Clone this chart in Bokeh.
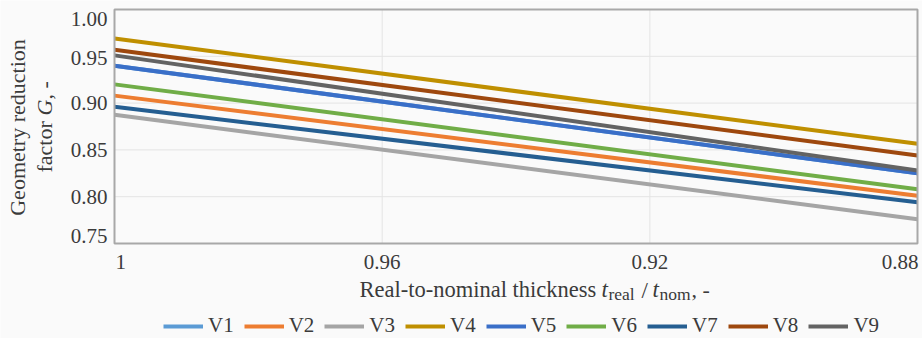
import math

from bokeh.plotting import figure
from bokeh.models import Range1d, Label, Legend, LegendItem
from bokeh.embed import file_html
from bokeh.resources import INLINE

# Real-to-nominal thickness t_real/t_nom (axis runs from 1 down to 0.88)
thickness = [1.00, 0.88]

# Geometry reduction factor G for each variant
series_names = ["V1", "V2", "V3", "V4", "V5", "V6", "V7", "V8", "V9"]
g_v1 = [0.940, 0.825]
g_v2 = [0.908, 0.801]
g_v3 = [0.8875, 0.776]
g_v4 = [0.969, 0.8565]
g_v5 = [0.940, 0.825]
g_v6 = [0.920, 0.808]
g_v7 = [0.896, 0.794]
g_v8 = [0.957, 0.844]
g_v9 = [0.951, 0.828]

x_ticks = [1.00, 0.96, 0.92, 0.88]
x_tick_labels = ["1", "0.96", "0.92", "0.88"]
y_ticks = [1.00, 0.95, 0.90, 0.85, 0.80, 0.75]
y_tick_labels = ["1.00", "0.95", "0.90", "0.85", "0.80", "0.75"]
x_grid = [0.96, 0.92]
y_grid = [0.95, 0.90, 0.85, 0.80]

colors = ["#5b9bd5", "#ed7d31", "#a5a5a5", "#bf8f00", "#3a6fc8",
          "#70ad47", "#255e91", "#9e480e", "#636363"]

FONT = "'Liberation Serif', 'Times New Roman', serif"
TXT = "#3b3b3b"
W, H = 922, 338
LIFT = 7  # raise labels so their glyphs sit on the intended baseline

# plot area inside the canvas (pixels): left, right, top, bottom
AL, AR, AT, AB = 114, 917, 9, 243
X0, X1 = thickness[0], thickness[-1]
Y0, Y1 = 0.75, 1.00
sx = (AR - AL) / (X0 - X1)
sy = (AB - AT) / (Y1 - Y0)

# the frame fills the whole canvas; ranges are widened so that the
# data window [1, 0.88] x [0.75, 1] lands on the plot area above
p = figure(width=W, height=H,
           x_range=Range1d(X0 + AL / sx, X1 - (W - AR) / sx),
           y_range=Range1d(Y0 - (H - AB) / sy, Y1 + AT / sy),
           x_axis_location=None, y_axis_location=None,
           output_backend="svg", toolbar_location=None,
           min_border=0, min_border_left=0, min_border_right=0,
           min_border_top=0, min_border_bottom=0,
           background_fill_color="#fafafa", border_fill_color="#fafafa",
           outline_line_color=None)
p.grid.visible = False

# grid lines
p.segment(x0=[X0] * len(y_grid), x1=[X1] * len(y_grid), y0=y_grid, y1=y_grid,
          line_color="#e4e4e4", line_width=1)
p.segment(x0=x_grid, x1=x_grid, y0=[Y0] * len(x_grid), y1=[Y1] * len(x_grid),
          line_color="#e4e4e4", line_width=1)

series = [g_v1, g_v2, g_v3, g_v4, g_v5, g_v6, g_v7, g_v8, g_v9]
items = []
for name, vals, col in zip(series_names, series, colors):
    r = p.line(thickness, vals, line_color=col, line_width=4)
    items.append(LegendItem(label=name, renderers=[r]))

# plot area border
p.quad(left=[X0], right=[X1], bottom=[Y0], top=[Y1], fill_alpha=0,
       line_color="#a8a8a8", line_width=2)

legend = Legend(items=items, orientation="horizontal", location=(163, 0),
                padding=0, margin=0, spacing=10, label_standoff=5,
                glyph_width=40, glyph_height=22, label_height=22,
                border_line_alpha=0, background_fill_alpha=0,
                label_text_font=FONT, label_text_font_size="21px",
                label_text_color=TXT)
p.add_layout(legend)

# x tick labels (first and last kept inside the plot area)
x_aligns = ["left", "center", "center", "right"]
x_offsets = [1, 0, 0, 1]
for xv, txt, al, off in zip(x_ticks, x_tick_labels, x_aligns, x_offsets):
    p.add_layout(Label(x=xv, y=Y0, text=txt, text_align=al,
                       text_baseline="alphabetic", x_offset=off, y_offset=-25 + LIFT,
                       text_font=FONT, text_font_size="21px", text_color=TXT))

# y tick labels
y_offsets = [-16, -9, -7, -7, -7, 1]
for yv, txt, off in zip(y_ticks, y_tick_labels, y_offsets):
    p.add_layout(Label(x=X0, y=yv, text=txt, text_align="right",
                       text_baseline="alphabetic", x_offset=-7, y_offset=off + LIFT,
                       text_font=FONT, text_font_size="21px", text_color=TXT))


def canvas_label(cx, cy, text, size="22px", style="normal", angle=0.0, align="left"):
    # cx, cy: baseline position measured from the canvas top-left corner
    if angle:
        cx -= LIFT
    else:
        cy -= LIFT
    p.add_layout(Label(x=cx, y=H - cy, x_units="screen", y_units="screen",
                       text=text, angle=angle, text_align=align,
                       text_baseline="alphabetic", text_font=FONT,
                       text_font_size=size, text_font_style=style, text_color=TXT))


# x axis title: Real-to-nominal thickness t_real/t_nom, -
canvas_label(359, 296, "Real-to-nominal thickness", size="22.5px")
canvas_label(601, 296, "t", style="italic", size="23px")
canvas_label(608, 300, "real", size="17.5px")
canvas_label(641, 297, "/", size="23px")
canvas_label(652, 296, "t", style="italic", size="23px")
canvas_label(659, 300, "nom", size="17.5px")
canvas_label(691, 296, ", -")

# y axis title, two rotated lines
up = math.pi / 2
canvas_label(24, 127, "Geometry reduction", angle=up, align="center")
canvas_label(51, 172, "factor", angle=up)
canvas_label(51, 115, "G", style="italic", angle=up)
canvas_label(51, 99, ", -", angle=up)

open("out.html", "w").write(file_html(p, INLINE))
